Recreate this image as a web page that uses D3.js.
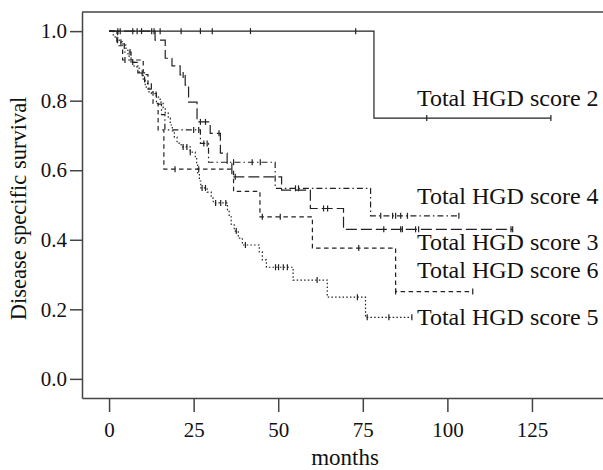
<!DOCTYPE html>
<html>
<head>
<meta charset="utf-8">
<script src="https://cdn.jsdelivr.net/npm/d3@7"></script>
<style>
    body { margin: 0; background: #fff; }
    text { font-family: "Liberation Serif", "Times New Roman", serif; fill: #111; }
</style>
</head>
<body>
<div id="km_plot"></div>
<script>
    // values: step times (months), survival after each step, censor times, last follow-up
    const labels = ["Total HGD score 2", "Total HGD score 3", "Total HGD score 4", "Total HGD score 5", "Total HGD score 6"];

    const score2Times = [78.3];
    const score2Surv = [0.75];
    const score2Censor = [2.6, 3.3, 7, 8.3, 9.6, 12.6, 13.3, 15.1, 21.3, 27, 30.5, 41.8, 72.9, 93.9, 130.6];
    const score2End = 130.6;

    const score3Times = [13.6, 16.6, 18.6, 21.0, 22.5, 23.5, 26.0, 29.9, 32.9, 34.9, 36.3, 51.0, 59.5, 69.3];
    const score3Surv = [0.974, 0.922, 0.90, 0.874, 0.845, 0.796, 0.739, 0.706, 0.649, 0.62, 0.581, 0.543, 0.49, 0.43];
    const score3Censor = [21.9, 27, 28.5, 32.5, 37.3, 63.4, 64.6, 81.2, 86.2, 86.7, 90.6, 91.5, 118.8, 119.3];
    const score3End = 119.3;

    const score4Times = [2.3, 4.5, 6.5, 8.5, 10.5, 12.5, 14, 15.5, 16.5, 27.0, 29.4, 49.1, 77.3];
    const score4Surv = [0.97, 0.94, 0.91, 0.88, 0.85, 0.82, 0.79, 0.76, 0.716, 0.677, 0.623, 0.548, 0.469];
    const score4Censor = [6.2, 25.0, 26.5, 28.0, 29.0, 36.8, 42.3, 44.7, 55.1, 56.0, 80.3, 83.8, 84.7, 86.2, 88.2, 103.4];
    const score4End = 103.4;

    const score5Times = [1.2, 1.8, 3.0, 4.1, 5.0, 5.6, 6.5, 7.4, 8.9, 10.1, 10.7, 11.8, 13.9, 15.1, 16.0, 16.6, 17.5,
        18.1, 18.7, 19.3, 20.1, 21.3, 24.0, 25.5, 25.9, 26.2, 26.7, 27.1, 29.0, 30.2, 30.8, 35.0, 35.5, 36.1, 37.0,
        38.2, 39.4, 44.4, 45.3, 46.5, 54.4, 64.5, 75.8];
    const score5Surv = [0.989, 0.98, 0.968, 0.96, 0.945, 0.928, 0.911, 0.897, 0.879, 0.859, 0.839, 0.825, 0.81, 0.796,
        0.779, 0.764, 0.75, 0.73, 0.713, 0.695, 0.678, 0.667, 0.652, 0.635, 0.615, 0.592, 0.569, 0.549, 0.537, 0.52,
        0.506, 0.486, 0.466, 0.445, 0.425, 0.405, 0.385, 0.365, 0.342, 0.321, 0.284, 0.235, 0.177];
    const score5Censor = [3.5, 7, 9.8, 21.9, 23, 24, 27.5, 28.5, 31.5, 33, 34.5, 37.6, 40.3, 49.2, 50.1, 51.5, 52.7,
        61.5, 73.4, 76.3, 82.7, 89.5];
    const score5End = 89.5;

    const score6Times = [2.5, 4.0, 10.1, 11.5, 13.0, 14.5, 16.2, 36.8, 44.6, 60.1, 84.7];
    const score6Surv = [0.958, 0.917, 0.875, 0.833, 0.792, 0.716, 0.603, 0.539, 0.466, 0.376, 0.251];
    const score6Censor = [4.7, 19.5, 26.5, 45.3, 50.6, 73.8, 84.7, 107.5];
    const score6End = 107.5;

    const yTicks = [0, 0.2, 0.4, 0.6, 0.8, 1.0];
    const xTicks = [0, 25, 50, 75, 100, 125];

    function make_curve(name, times, survs, censors, end, dash, labelY) {
        let steps = [[0, 1]];
        times.forEach((t, i) => steps.push([t, survs[i]]));
        steps.push([end, survs[survs.length - 1]]);
        // survival at a censor time = last step at or before it
        const survAt = t => {
            let s = 1;
            times.forEach((ti, i) => { if (ti <= t) s = survs[i]; });
            return s;
        };
        return {
            name: name,
            steps: steps,
            censors: censors.map(t => [t, survAt(t)]),
            dash: dash,
            labelY: labelY
        };
    }

    const curves = [
        make_curve(labels[0], score2Times, score2Surv, score2Censor, score2End, null, 0.8),
        make_curve(labels[1], score3Times, score3Surv, score3Censor, score3End, "11,4", 0.385),
        make_curve(labels[2], score4Times, score4Surv, score4Censor, score4End, "6,3,1.5,3", 0.52),
        make_curve(labels[3], score5Times, score5Surv, score5Censor, score5End, "1.5,2.2", 0.17),
        make_curve(labels[4], score6Times, score6Surv, score6Censor, score6End, "4.5,3.5", 0.307)
    ];

    function plot_km() {
        const width = 603, height = 470;
        const svg = d3.select("#km_plot")
            .append("svg")
            .attr("width", width)
            .attr("height", height);

        const x = d3.scaleLinear().domain([-8, 146]).range([82, 603]);
        const y = d3.scaleLinear().domain([-0.055, 1.055]).range([398, 12]);

        const yAxis = svg.append("g")
            .attr("transform", "translate(82,0)")
            .call(d3.axisLeft(y).tickValues(yTicks).tickFormat(d3.format(".1f")).tickSize(12).tickSizeOuter(0).tickPadding(3));
        const xAxis = svg.append("g")
            .attr("transform", "translate(0,398)")
            .call(d3.axisBottom(x).tickValues(xTicks).tickSize(14).tickSizeOuter(0).tickPadding(10));
        [yAxis, xAxis].forEach(a => {
            a.selectAll("path, line").attr("stroke", "#444").attr("stroke-width", 1.5);
            a.selectAll("text").style("font-size", "21px").attr("fill", "#111");
        });

        // top frame line
        svg.append("line")
            .attr("x1", 82).attr("x2", 603)
            .attr("y1", y.range()[1]).attr("y2", y.range()[1])
            .attr("stroke", "#444").attr("stroke-width", 1.5);

        const to_line = d3.line()
            .x(d => x(d[0]))
            .y(d => y(d[1]))
            .curve(d3.curveStepAfter);

        svg.selectAll("kmLines")
            .data(curves)
            .join("path")
            .attr("d", d => to_line(d.steps))
            .attr("fill", "none")
            .attr("stroke", "#222")
            .attr("stroke-width", 1.2)
            .attr("stroke-dasharray", d => d.dash);

        // censor marks
        svg.selectAll("kmCensors")
            .data(curves)
            .join("g")
            .selectAll("line")
            .data(d => d.censors)
            .join("line")
            .attr("x1", d => x(d[0])).attr("x2", d => x(d[0]))
            .attr("y1", d => y(d[1]) - 3).attr("y2", d => y(d[1]) + 3)
            .attr("stroke", "#222")
            .attr("stroke-width", 1.2);

        svg.selectAll("kmLabels")
            .data(curves)
            .join("text")
            .attr("x", x(91))
            .attr("y", d => y(d.labelY))
            .attr("dominant-baseline", "middle")
            .style("font-size", "24px")
            .text(d => d.name);

        svg.append("text")
            .attr("x", 345)
            .attr("y", 460)
            .attr("text-anchor", "middle")
            .attr("dominant-baseline", "middle")
            .style("font-size", "23px")
            .text("months");

        svg.append("text")
            .attr("transform", "translate(21," + y(0.49) + ") rotate(-90)")
            .attr("text-anchor", "middle")
            .attr("dominant-baseline", "middle")
            .style("font-size", "22.5px")
            .text("Disease specific survival");
    }

    plot_km();
</script>
</body>
</html>
